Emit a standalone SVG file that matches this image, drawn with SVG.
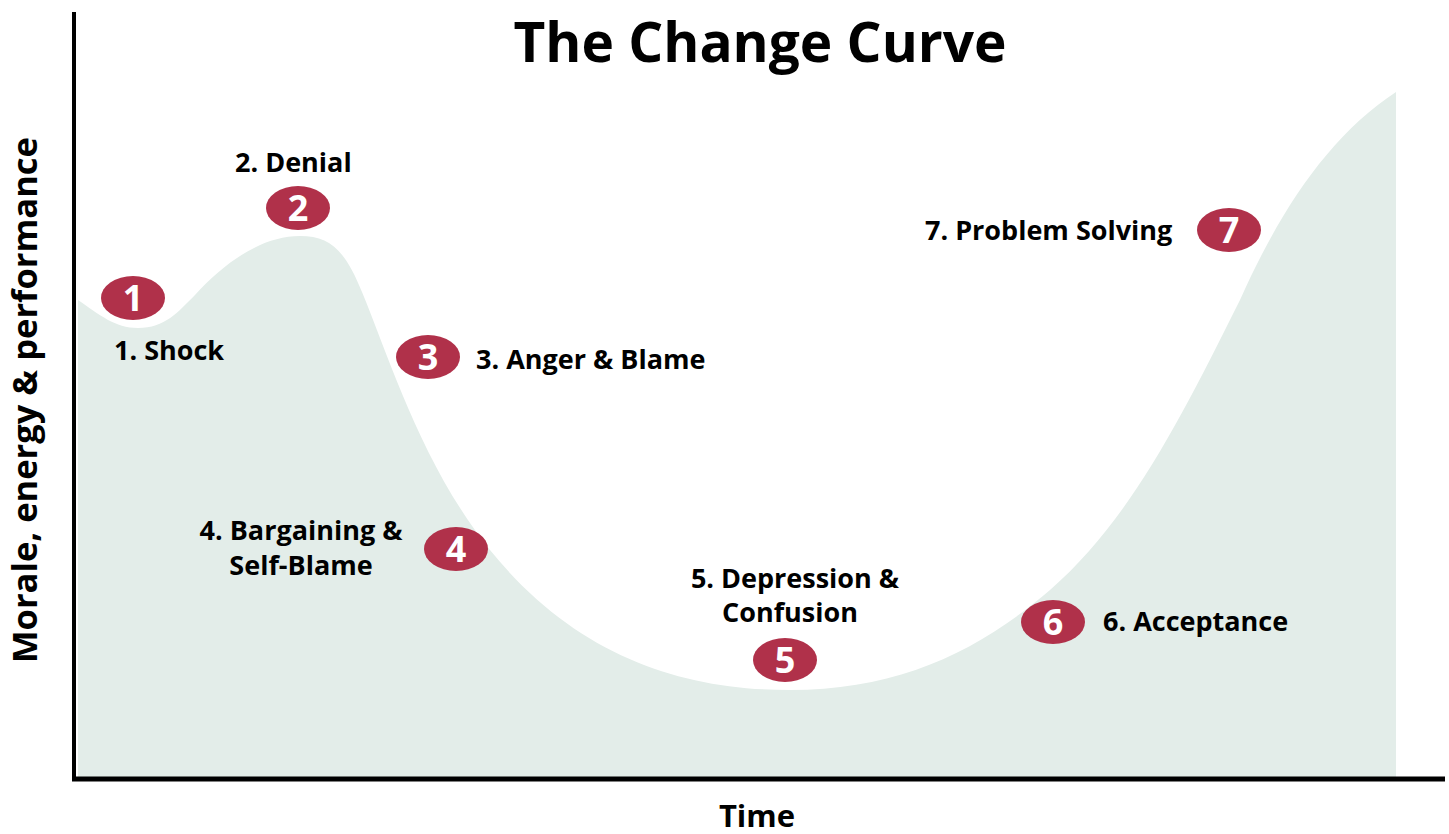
<svg xmlns="http://www.w3.org/2000/svg" width="1449" height="834" viewBox="0 0 1449 834">
<style>
.lbl{font-family:"Open Sans","Noto Sans",sans-serif;font-weight:700;font-size:27px;fill:#000}
.badge{fill:#b0314a}
.num{font-family:"Open Sans","Noto Sans",sans-serif;font-weight:700;font-size:36px;fill:#fff;text-anchor:middle}
.axis{stroke:#000;fill:none}
</style>
<rect width="1449" height="834" fill="#fff"/>
<g id="curve">
<path d="M78,300 C100,315 115,328 138,328 C165,328 178,312 195,295 C225,262 262,236 300,236 C330,236 345,250 362,292 C390,360 422,465 490,550 C575,655 680,690 790,690 C900,690 980,650 1050,590 C1130,520 1180,420 1240,300 C1280,210 1330,135 1396,92 L1396,778 L78,778 Z" fill="#e3ede9"/>
</g>
<g id="axes">
<line class="axis" x1="74" y1="12" x2="74" y2="781" stroke-width="4"/>
<line class="axis" x1="72" y1="779" x2="1445" y2="779" stroke-width="5"/>
</g>
<text x="760" y="62" font-family="'Open Sans','Noto Sans',sans-serif" font-weight="700" font-size="55" text-anchor="middle">The Change Curve</text>
<text transform="translate(37,400) rotate(-90)" font-family="'Open Sans','Noto Sans',sans-serif" font-weight="700" font-size="34.5" text-anchor="middle">Morale, energy &amp; performance</text>
<text x="757" y="827" font-family="'Open Sans','Noto Sans',sans-serif" font-weight="700" font-size="31" text-anchor="middle">Time</text>
<g id="stage1"><ellipse class="badge" cx="133" cy="298" rx="32" ry="22"/><text class="num" x="133" y="311">1</text><text class="lbl" x="114" y="360">1. Shock</text></g>
<g id="stage2"><ellipse class="badge" cx="298" cy="208" rx="32" ry="22"/><text class="num" x="298" y="221">2</text><text class="lbl" x="235" y="172">2. Denial</text></g>
<g id="stage3"><ellipse class="badge" cx="428" cy="357" rx="32" ry="22"/><text class="num" x="428" y="370">3</text><text class="lbl" x="476" y="369">3. Anger &amp; Blame</text></g>
<g id="stage4"><ellipse class="badge" cx="456" cy="549" rx="32" ry="22"/><text class="num" x="456" y="562">4</text><text class="lbl" x="301" y="540" text-anchor="middle">4. Bargaining &amp;</text><text class="lbl" x="301" y="575" text-anchor="middle">Self-Blame</text></g>
<g id="stage5"><ellipse class="badge" cx="785" cy="660" rx="32" ry="22"/><text class="num" x="785" y="673">5</text><text class="lbl" x="795" y="588" text-anchor="middle">5. Depression &amp;</text><text class="lbl" x="790" y="622" text-anchor="middle">Confusion</text></g>
<g id="stage6"><ellipse class="badge" cx="1053" cy="622" rx="32" ry="22"/><text class="num" x="1053" y="635">6</text><text class="lbl" x="1103" y="631">6. Acceptance</text></g>
<g id="stage7"><ellipse class="badge" cx="1229" cy="230" rx="32" ry="22"/><text class="num" x="1229" y="243">7</text><text class="lbl" x="925" y="240">7. Problem Solving</text></g>
</svg>
